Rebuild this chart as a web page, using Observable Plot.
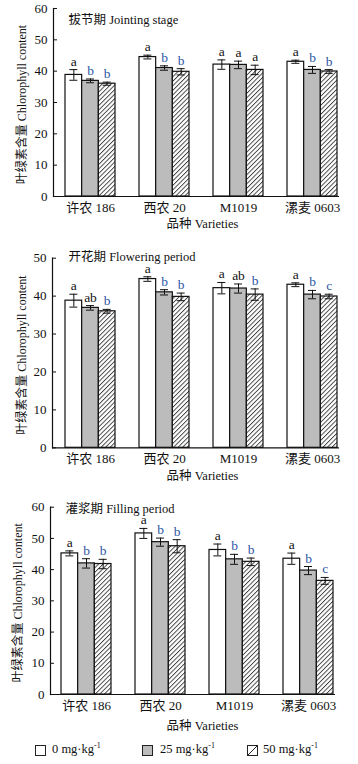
<!DOCTYPE html>
<html><head><meta charset="utf-8">
<script src="https://cdn.jsdelivr.net/npm/d3@7"></script>
<script src="https://cdn.jsdelivr.net/npm/@observablehq/plot@0.6"></script>
<style>
body{margin:0;background:#fff;width:358px;font-family:"Liberation Serif","Noto Sans CJK SC",serif;color:#111;}
svg{display:block}
#legend{position:relative;height:26px;width:358px;font-size:12.5px;}
.box{position:absolute;top:7px;}
.lab{position:absolute;top:4px;line-height:14px;white-space:nowrap}
.lab sup{font-size:8px;vertical-align:5px;line-height:0}
</style></head><body>
<div id="chart"></div>
<div id="legend"></div>
<script>
// ---------- data ----------
const varieties = ["许农 186", "西农 20", "M1019", "漯麦 0603"];
const treatments = ["0 mg·kg", "25 mg·kg", "50 mg·kg"];

// Jointing stage (mean, error) by treatment, in variety order
const joint0 = [38.8, 44.5, 42.1, 43.0];
const joint25 = [36.9, 41.0, 42.0, 40.4];
const joint50 = [36.0, 39.8, 40.4, 39.9];
const jointErr0 = [1.7, 0.6, 1.5, 0.5];
const jointErr25 = [0.6, 0.7, 1.2, 1.1];
const jointErr50 = [0.5, 1.0, 1.5, 0.6];
const jointLet0 = ["a", "a", "a", "a"];
const jointLet25 = ["b", "b", "a", "b"];
const jointLet50 = ["b", "b", "a", "b"];

// Flowering period
const flower0 = [38.8, 44.5, 42.1, 43.0];
const flower25 = [36.9, 41.0, 42.0, 40.4];
const flower50 = [36.0, 39.8, 40.4, 39.9];
const flowerErr0 = [1.7, 0.6, 1.5, 0.5];
const flowerErr25 = [0.6, 0.7, 1.2, 1.1];
const flowerErr50 = [0.5, 1.0, 1.5, 0.6];
const flowerLet0 = ["a", "a", "a", "a"];
const flowerLet25 = ["ab", "b", "ab", "b"];
const flowerLet50 = ["b", "b", "b", "c"];

// Filling period
const fill0 = [45.2, 51.6, 46.3, 43.5];
const fill25 = [42.0, 48.8, 43.3, 39.7];
const fill50 = [41.8, 47.5, 42.5, 36.4];
const fillErr0 = [0.8, 1.6, 1.9, 1.8];
const fillErr25 = [1.5, 1.3, 1.6, 1.3];
const fillErr50 = [1.5, 2.1, 1.2, 1.1];
const fillLet0 = ["a", "a", "a", "a"];
const fillLet25 = ["b", "b", "b", "b"];
const fillLet50 = ["b", "b", "b", "c"];

const ticks60 = [0, 10, 20, 30, 40, 50, 60];
const ticks50 = [0, 10, 20, 30, 40, 50];

const FONT = '"Liberation Serif","Noto Sans CJK SC",serif';
const BLUE = "#2f55a4";
const GRAY = "#bcbcbc";

function rowsOf(means, errs, lets) {
  const rows = [];
  varieties.forEach((v, i) => {
    treatments.forEach((tr, t) => {
      rows.push({variety: v, t, mean: means[t][i], err: errs[t][i], letter: lets[t][i]});
    });
  });
  return rows;
}

function panel(cfg, idx) {
  const rows = rowsOf(cfg.means, cfg.errs, cfg.lets);
  const BW = 50, third = BW / 3, cap = 4;
  const W = 358 - cfg.ml - cfg.mr;
  const hatch = "hatch" + idx;
  const fills = ["white", GRAY, `url(#${hatch})`];
  const marks = [];
  marks.push(Plot.tickY(cfg.ticks, {y: d => d, insetRight: W - 4, stroke: "#111", strokeWidth: 1}));
  marks.push(Plot.axisY({ticks: cfg.ticks, tickSize: 0, tickPadding: 6, fontSize: 13, label: null}));
  marks.push(Plot.axisX({tickSize: 0, tickPadding: 6, fontSize: 13, label: null}));
  treatments.forEach((tr, t) => {
    const sub = rows.filter(d => d.t === t);
    marks.push(Plot.barY(sub, {x: "variety", y: "mean", fill: fills[t], stroke: "#111", strokeWidth: 1.2,
      insetLeft: t * third, insetRight: (2 - t) * third}));
  });
  treatments.forEach((tr, t) => {
    const sub = rows.filter(d => d.t === t);
    const off = (t - 1) * third;
    const c = (t + 0.5) * third;
    marks.push(Plot.ruleX(sub, {x: "variety", y1: d => d.mean - d.err, y2: d => d.mean + d.err, dx: off, stroke: "#111", strokeWidth: 1}));
    marks.push(Plot.tickY(sub, {x: "variety", y: d => d.mean + d.err, insetLeft: c - cap, insetRight: BW - c - cap, stroke: "#111", strokeWidth: 1}));
    marks.push(Plot.tickY(sub, {x: "variety", y: d => d.mean - d.err, insetLeft: c - cap, insetRight: BW - c - cap, stroke: "#111", strokeWidth: 1}));
    marks.push(Plot.text(sub, {x: "variety", y: d => d.mean + d.err, text: "letter", dx: off, dy: -4, lineAnchor: "bottom",
      fill: d => d.letter.startsWith("a") ? "#111" : BLUE, fontSize: 13.5}));
  });
  marks.push(Plot.ruleY([0], {stroke: "#111", strokeWidth: 1.2}));
  marks.push(Plot.frame({anchor: "left", stroke: "#111", strokeWidth: 1.2}));
  marks.push(Plot.text([cfg.title], {frameAnchor: "top-left", dx: cfg.tdx, dy: cfg.tdy, textAnchor: "start", lineAnchor: "middle", fontSize: 12.5, fill: "#111"}));
  marks.push(Plot.text(["叶绿素含量 Chlorophyll content"], {frameAnchor: "left", rotate: -90, dx: cfg.ydx, dy: 2, textAnchor: "middle", lineAnchor: "middle", fontSize: 12, fill: "#111"}));
  marks.push(Plot.text(["品种 Varieties"], {frameAnchor: "bottom", dx: cfg.xdx, dy: cfg.xdy, textAnchor: "middle", lineAnchor: "middle", fontSize: 12.5, fill: "#111"}));

  const svg = Plot.plot({
    width: 358, height: cfg.h,
    marginLeft: cfg.ml, marginRight: cfg.mr, marginTop: cfg.mt, marginBottom: cfg.mb,
    style: {fontFamily: FONT, fontSize: "13px", color: "#111", background: "white"},
    x: {domain: varieties, range: cfg.xr, paddingInner: 24 / 74, paddingOuter: 0},
    y: {domain: cfg.ydom},
    marks
  });
  const defs = document.createElementNS("http://www.w3.org/2000/svg", "defs");
  defs.innerHTML = `<pattern id="${hatch}" patternUnits="userSpaceOnUse" width="3.2" height="3.2" patternTransform="rotate(45)"><rect width="3.2" height="3.2" fill="white"/><line x1="0.5" y1="0" x2="0.5" y2="3.2" stroke="#222" stroke-width="0.8"/></pattern>`;
  svg.insertBefore(defs, svg.firstChild);
  return svg;
}

const chart = document.getElementById("chart");
chart.appendChild(panel({title: "拔节期 Jointing stage", means: [joint0, joint25, joint50], errs: [jointErr0, jointErr25, jointErr50], lets: [jointLet0, jointLet25, jointLet50],
  h: 240, ml: 53, mr: 19, mt: 8, mb: 44, xr: [65, 337], ydom: [0, 60], ticks: ticks60, tdx: 15, tdy: 11, ydx: -31, xdx: 6, xdy: 27}, 0));
chart.appendChild(panel({title: "开花期 Flowering period", means: [flower0, flower25, flower50], errs: [flowerErr0, flowerErr25, flowerErr50], lets: [flowerLet0, flowerLet25, flowerLet50],
  h: 250, ml: 52, mr: 19, mt: 17.7, mb: 42.7, xr: [65, 337], ydom: [0, 50], ticks: ticks50, tdx: 16, tdy: -1.7, ydx: -30, xdx: 6.5, xdy: 27.7}, 1));
chart.appendChild(panel({title: "灌浆期 Filling period", means: [fill0, fill25, fill50], errs: [fillErr0, fillErr25, fillErr50], lets: [fillLet0, fillLet25, fillLet50],
  h: 248, ml: 50, mr: 23, mt: 16.7, mb: 44, xr: [61, 333], ydom: [0, 60], ticks: ticks60, tdx: 15, tdy: 1.3, ydx: -32, xdx: 9.5, xdy: 31}, 2));

// ---------- legend ----------
const legend = document.getElementById("legend");
const boxX = [35, 142, 247], labX = [52, 160, 263];
const boxFill = ["white", GRAY, "white"];
treatments.forEach((tr, t) => {
  const b = document.createElement("div");
  b.className = "box"; b.style.left = boxX[t] + "px";
  b.innerHTML = `<svg width="11" height="11"><rect x="0.5" y="0.5" width="10" height="10" fill="${boxFill[t]}" stroke="#222" stroke-width="1"/>${t === 2 ? '<line x1="1" y1="10" x2="10" y2="1" stroke="#222" stroke-width="1"/>' : ''}</svg>`;
  legend.appendChild(b);
  const l = document.createElement("div");
  l.className = "lab"; l.style.left = labX[t] + "px";
  l.innerHTML = tr + "<sup>-1</sup>";
  legend.appendChild(l);
});
</script>
</body></html>
